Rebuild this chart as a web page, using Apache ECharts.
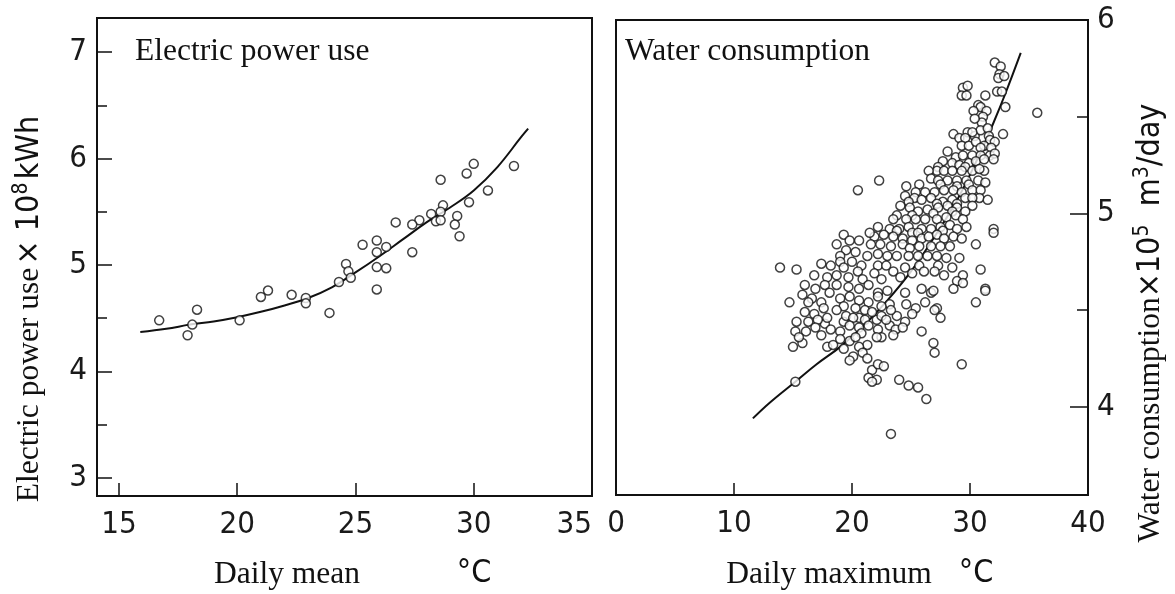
<!DOCTYPE html>
<html>
<head>
<meta charset="utf-8">
<script src="https://cdn.jsdelivr.net/npm/echarts@6/dist/echarts.min.js"></script>
<style>
  html, body { margin: 0; padding: 0; background: #fff; }
  #chart { width: 1175px; height: 594px; }
</style>
</head>
<body>
<div id="chart"></div>
<script>
// Daily electricity demand against daily mean temperature: [°C, ×10^8 kWh]
const powerPoints = [
  [31.7,5.93],[30.0,5.95],[29.7,5.86],[28.6,5.80],[30.6,5.70],[29.8,5.59],[28.7,5.56],[28.6,5.50],
  [28.2,5.48],[28.4,5.41],[28.6,5.42],[27.7,5.42],[27.4,5.38],[26.7,5.40],[29.3,5.46],[29.2,5.38],
  [29.4,5.27],[27.4,5.12],[25.3,5.19],[25.9,5.23],[25.9,5.12],[26.3,5.17],[24.6,5.01],[24.7,4.94],
  [24.8,4.88],[24.3,4.84],[25.9,4.98],[26.3,4.97],[25.9,4.77],[21.3,4.76],[21.0,4.70],[22.3,4.72],
  [22.9,4.69],[22.9,4.64],[16.7,4.48],[18.3,4.58],[18.1,4.44],[17.9,4.34],[20.1,4.48],[23.9,4.55]
];
// Fitted demand curve for electricity
const powerCurve = [
  [15.9,4.37],[17,4.40],[18,4.44],[19,4.47],[20,4.51],[21,4.56],[22,4.62],[23,4.69],[24,4.79],
  [25,4.93],[26,5.08],[27,5.24],[28,5.40],[29,5.54],[30,5.70],[31,5.92],[32,6.20],[32.3,6.28]
];
// Daily water consumption against daily maximum temperature: [°C, ×10^5 m3/day]
const waterPoints = [
  [32.1,5.78],[32.6,5.76],[32.5,5.72],[32.4,5.70],[32.9,5.71],[32.3,5.63],[32.7,5.63],[29.4,5.65],
  [29.8,5.66],[29.3,5.61],[29.7,5.61],[31.3,5.61],[33.0,5.55],[30.7,5.56],[30.9,5.55],[30.3,5.53],
  [31.4,5.53],[31.1,5.50],[35.7,5.52],[31.0,5.47],[30.4,5.49],
  [28.6,5.41],[29.8,5.42],[29.1,5.39],[30.4,5.40],[30.9,5.43],[31.5,5.44],[31.6,5.40],[32.8,5.41],
  [30.2,5.42],[29.6,5.39],[31.7,5.38],[32.1,5.37],
  [29.3,5.35],[29.9,5.35],[30.5,5.37],[31.2,5.35],[31.8,5.34],[28.1,5.32],[30.9,5.34],
  [28.8,5.29],[29.4,5.30],[30.2,5.30],[30.9,5.30],[31.7,5.30],[32.1,5.31],
  [27.7,5.27],[28.5,5.26],[29.1,5.25],[29.9,5.26],[30.5,5.27],[31.2,5.28],[32.0,5.28],
  [27.3,5.24],[29.6,5.24],[31.2,5.22],
  [27.2,5.22],[27.8,5.22],[28.5,5.22],[29.3,5.22],[30.2,5.22],[30.8,5.23],
  [26.5,5.22],[26.7,5.18],[27.3,5.17],[28.1,5.17],[28.9,5.17],[29.7,5.17],[30.7,5.17],[31.3,5.16],
  [25.7,5.15],[27.5,5.15],[28.9,5.14],[29.9,5.15],
  [24.6,5.14],[25.4,5.11],[26.2,5.11],[27.0,5.11],[27.8,5.12],[28.6,5.12],[29.3,5.11],[30.2,5.12],[30.9,5.12],
  [24.5,5.09],[25.3,5.08],[25.9,5.07],[26.7,5.08],[27.7,5.06],[28.5,5.07],[29.6,5.08],[30.8,5.08],[31.5,5.07],
  [24.8,5.06],[27.2,5.05],[28.9,5.05],[30.2,5.08],
  [20.5,5.12],[22.3,5.17],
  [24.1,5.04],[24.9,5.03],[25.6,5.01],[26.4,5.02],[27.3,5.03],[28.1,5.04],[28.9,5.03],[30.2,5.04],
  [25.1,4.99],[26.9,5.00],[28.5,5.01],[29.6,5.01],
  [23.8,4.99],[24.6,4.97],[25.4,4.97],[26.2,4.97],[27.2,4.97],[28.0,4.98],[28.8,4.99],[29.4,4.97],
  [23.5,4.97],
  [23.2,4.92],[24.0,4.92],[24.8,4.93],[25.1,4.90],[25.9,4.92],[26.7,4.92],[27.5,4.93],[28.3,4.94],
  [28.9,4.92],[29.7,4.93],[32.0,4.92],[32.0,4.90],
  [23.8,4.91],[25.6,4.90],[27.7,4.91],[21.9,4.88],
  [22.2,4.93],[21.5,4.90],[22.7,4.89],[23.5,4.88],[24.3,4.87],[25.1,4.86],[25.9,4.87],[26.5,4.88],
  [27.2,4.89],[27.8,4.87],[28.6,4.88],[29.3,4.87],
  [19.3,4.89],[19.8,4.86],[20.6,4.86],[21.6,4.84],[22.4,4.84],[23.3,4.83],[24.3,4.84],[24.9,4.82],
  [25.7,4.83],[26.7,4.83],[27.5,4.83],[28.3,4.83],[30.5,4.84],[18.7,4.84],
  [19.5,4.81],[20.3,4.80],[21.3,4.78],[22.2,4.79],[23.0,4.78],[23.8,4.78],[24.8,4.78],[25.6,4.78],
  [26.4,4.78],[27.2,4.78],[28.0,4.77],[29.1,4.77],[19.0,4.78],
  [20.0,4.75],[20.8,4.73],[22.2,4.73],[22.9,4.73],[24.5,4.72],[25.7,4.73],[27.3,4.73],[28.5,4.72],
  [13.9,4.72],[15.3,4.71],[17.4,4.74],[18.2,4.73],[19.0,4.75],[19.3,4.72],[16.8,4.68],[17.9,4.67],
  [18.7,4.68],[19.7,4.67],[20.5,4.70],[20.9,4.66],[21.9,4.69],[22.5,4.66],[23.5,4.70],[24.1,4.67],
  [25.1,4.69],[26.1,4.70],[27.0,4.70],[27.8,4.68],[29.4,4.68],[30.9,4.71],[28.9,4.65],
  [16.0,4.63],[16.9,4.61],[17.7,4.63],[18.7,4.63],[19.7,4.62],[20.6,4.61],[21.4,4.63],[22.2,4.59],
  [23.0,4.60],[24.5,4.59],[25.9,4.61],[26.7,4.59],[28.6,4.61],[29.4,4.64],[31.3,4.61],
  [14.7,4.54],[15.8,4.58],[16.6,4.56],[17.4,4.54],[18.1,4.59],[19.0,4.56],[19.8,4.57],[20.6,4.55],
  [21.4,4.54],[22.2,4.57],[23.2,4.53],[24.6,4.53],[25.4,4.51],[26.2,4.54],[26.9,4.60],[27.2,4.51],
  [30.5,4.54],[31.3,4.60],
  [16.3,4.54],[17.6,4.51],[19.3,4.52],[20.3,4.51],[21.1,4.50],[22.5,4.52],[23.8,4.47],[25.1,4.48],
  [16.8,4.48],[17.7,4.43],[19.3,4.44],[20.6,4.46],[22.1,4.45],[23.2,4.42],
  [16.0,4.49],[15.3,4.44],[16.3,4.44],[17.1,4.45],[17.9,4.46],[18.7,4.50],[19.5,4.47],[20.1,4.46],
  [21.1,4.45],[21.7,4.49],[22.5,4.47],[23.3,4.50],[24.5,4.44],[27.0,4.50],[27.5,4.46],
  [15.2,4.39],[16.1,4.39],[16.9,4.41],[18.2,4.40],[19.0,4.39],[19.8,4.42],[20.6,4.41],[21.4,4.42],
  [22.2,4.40],[22.9,4.45],[23.7,4.40],[24.3,4.41],[25.9,4.39],
  [17.4,4.37],[20.8,4.38],[22.5,4.36],
  [15.0,4.31],[15.8,4.33],[15.5,4.36],[17.9,4.31],[18.4,4.32],[19.0,4.35],[19.8,4.34],[20.3,4.36],
  [21.3,4.32],[22.1,4.36],[23.5,4.37],[26.9,4.33],[27.0,4.28],
  [20.6,4.31],[20.9,4.28],[20.1,4.26],
  [19.3,4.30],[19.8,4.24],[21.3,4.25],[21.7,4.19],[22.2,4.22],[22.7,4.21],[21.4,4.15],[22.1,4.14],
  [21.7,4.13],[15.2,4.13],[29.3,4.22],[24.0,4.14],[24.8,4.11],[25.6,4.10],[26.3,4.04],[23.3,3.86]
];
// Fitted demand curve for water
const waterCurve = [
  [11.6,3.94],[13,4.02],[15.2,4.13],[17,4.22],[19,4.31],[21,4.42],[23,4.55],[25,4.70],
  [27,4.88],[29,5.08],[31,5.33],[32,5.47],[33,5.62],[34.3,5.83]
];

// Tick positions and labels
const powerTempTicks = [15, 20, 25, 30, 35];
const powerUseTicks = [3, 4, 5, 6, 7];
const powerUseMinor = [3.5, 4.5, 5.5, 6.5];
const waterTempTicks = [0, 10, 20, 30, 40];
const waterUseTicks = [4, 5, 6];
const waterUseMinor = [4.5, 5.5];

const INK = '#111';
const NARROW = '"DejaVu Sans Condensed", "Liberation Sans Narrow", sans-serif';
const SERIF = '"Liberation Serif", "DejaVu Serif", serif';
const SERIF_SIZE = 31.5;

const numLabel = (extra) => Object.assign({
  fontFamily: NARROW, fontSize: 31, color: '#1a1a1a'
}, extra);

const hiddenLine = { show: false, onZero: false };

const chart = echarts.init(document.getElementById('chart'), null, { renderer: 'canvas' });

const titleRich = {
  s: { fontFamily: SERIF, fontSize: SERIF_SIZE, lineHeight: 38, fill: INK },
  n: { fontFamily: NARROW, fontSize: 32, lineHeight: 38, fill: INK },
  sup: { fontFamily: NARROW, fontSize: 21, lineHeight: 38, verticalAlign: 'top', fill: INK }
};

chart.setOption({
  animation: false,
  backgroundColor: '#fff',
  grid: [
    { left: 97, top: 18, width: 495, height: 478, show: true, borderColor: INK, borderWidth: 2, backgroundColor: 'transparent' },
    { left: 616, top: 20, width: 472, height: 475, show: true, borderColor: INK, borderWidth: 2, backgroundColor: 'transparent' }
  ],
  xAxis: [
    {
      type: 'value', gridIndex: 0, min: 14.07, max: 35,
      axisLine: hiddenLine,
      splitLine: { show: false },
      axisTick: { inside: true, length: 13, customValues: powerTempTicks.slice(0, 4), lineStyle: { color: INK, width: 1.5 } },
      axisLabel: numLabel({ customValues: powerTempTicks, margin: 13, alignMaxLabel: 'right' })
    },
    {
      type: 'value', gridIndex: 1, min: 0, max: 40,
      axisLine: hiddenLine,
      splitLine: { show: false },
      axisTick: { inside: true, length: 12, customValues: waterTempTicks.slice(1, 4), lineStyle: { color: INK, width: 1.5 } },
      axisLabel: numLabel({ customValues: waterTempTicks, margin: 13 })
    }
  ],
  yAxis: [
    {
      type: 'value', gridIndex: 0, min: 2.83, max: 7.32, position: 'left',
      axisLine: hiddenLine,
      splitLine: { show: false },
      axisTick: { inside: true, length: 15, customValues: powerUseTicks, lineStyle: { color: INK, width: 1.5 } },
      axisLabel: numLabel({ customValues: powerUseTicks, margin: 10 })
    },
    {
      type: 'value', gridIndex: 0, min: 2.83, max: 7.32, position: 'left',
      axisLine: hiddenLine,
      splitLine: { show: false },
      axisTick: { inside: true, length: 10, customValues: powerUseMinor, lineStyle: { color: INK, width: 1.5 } },
      axisLabel: { show: false }
    },
    {
      type: 'value', gridIndex: 1, min: 3.544, max: 6.0, position: 'right',
      axisLine: hiddenLine,
      splitLine: { show: false },
      axisTick: { inside: true, length: 18, customValues: waterUseTicks.slice(0, 2), lineStyle: { color: INK, width: 1.5 } },
      axisLabel: numLabel({ customValues: waterUseTicks, margin: 9 })
    },
    {
      type: 'value', gridIndex: 1, min: 3.544, max: 6.0, position: 'right',
      axisLine: hiddenLine,
      splitLine: { show: false },
      axisTick: { inside: true, length: 11, customValues: waterUseMinor, lineStyle: { color: INK, width: 1.5 } },
      axisLabel: { show: false }
    }
  ],
  series: [
    {
      type: 'line', xAxisIndex: 0, yAxisIndex: 0, data: powerCurve, smooth: 0.4,
      showSymbol: false, silent: true, lineStyle: { color: INK, width: 2 }, z: 2
    },
    {
      type: 'scatter', xAxisIndex: 0, yAxisIndex: 0, data: powerPoints, symbol: 'circle', symbolSize: 9,
      silent: true, itemStyle: { color: '#fff', borderColor: INK, borderWidth: 1.5 }, z: 3
    },
    {
      type: 'line', xAxisIndex: 1, yAxisIndex: 2, data: waterCurve, smooth: 0.4,
      showSymbol: false, silent: true, lineStyle: { color: INK, width: 2 }, z: 2
    },
    {
      type: 'scatter', xAxisIndex: 1, yAxisIndex: 2, data: waterPoints, symbol: 'circle', symbolSize: 9,
      silent: true, itemStyle: { color: '#fff', borderColor: INK, borderWidth: 1.5 }, z: 3
    }
  ],
  graphic: [
    { type: 'text', left: 135, top: 36, style: { text: 'Electric power use', font: SERIF_SIZE + 'px ' + SERIF, fill: INK } },
    { type: 'text', left: 625, top: 36, style: { text: 'Water consumption', font: SERIF_SIZE + 'px ' + SERIF, fill: INK } },
    { type: 'text', x: 287, y: 575, style: { text: 'Daily mean', font: SERIF_SIZE + 'px ' + SERIF, fill: INK, align: 'center', verticalAlign: 'middle' } },
    { type: 'text', x: 474, y: 574, style: { text: '°C', font: '32px ' + NARROW, fill: INK, align: 'center', verticalAlign: 'middle' } },
    { type: 'text', x: 829, y: 575, style: { text: 'Daily maximum', font: SERIF_SIZE + 'px ' + SERIF, fill: INK, align: 'center', verticalAlign: 'middle' } },
    { type: 'text', x: 976, y: 574, style: { text: '°C', font: '32px ' + NARROW, fill: INK, align: 'center', verticalAlign: 'middle' } },
    {
      type: 'text', x: 30, y: 309, rotation: Math.PI / 2,
      style: {
        text: '{s|Electric power use} {n|× 10}{sup|8} {n|kWh}',
        align: 'center', verticalAlign: 'middle', fill: INK, rich: titleRich
      }
    },
    {
      type: 'text', x: 1151, y: 323, rotation: Math.PI / 2,
      style: {
        text: '{s|Water consumption}{n|×10}{sup|5}{n|  m}{sup|3}{n|/day}',
        align: 'center', verticalAlign: 'middle', fill: INK, rich: titleRich
      }
    }
  ]
});
</script>
</body>
</html>
